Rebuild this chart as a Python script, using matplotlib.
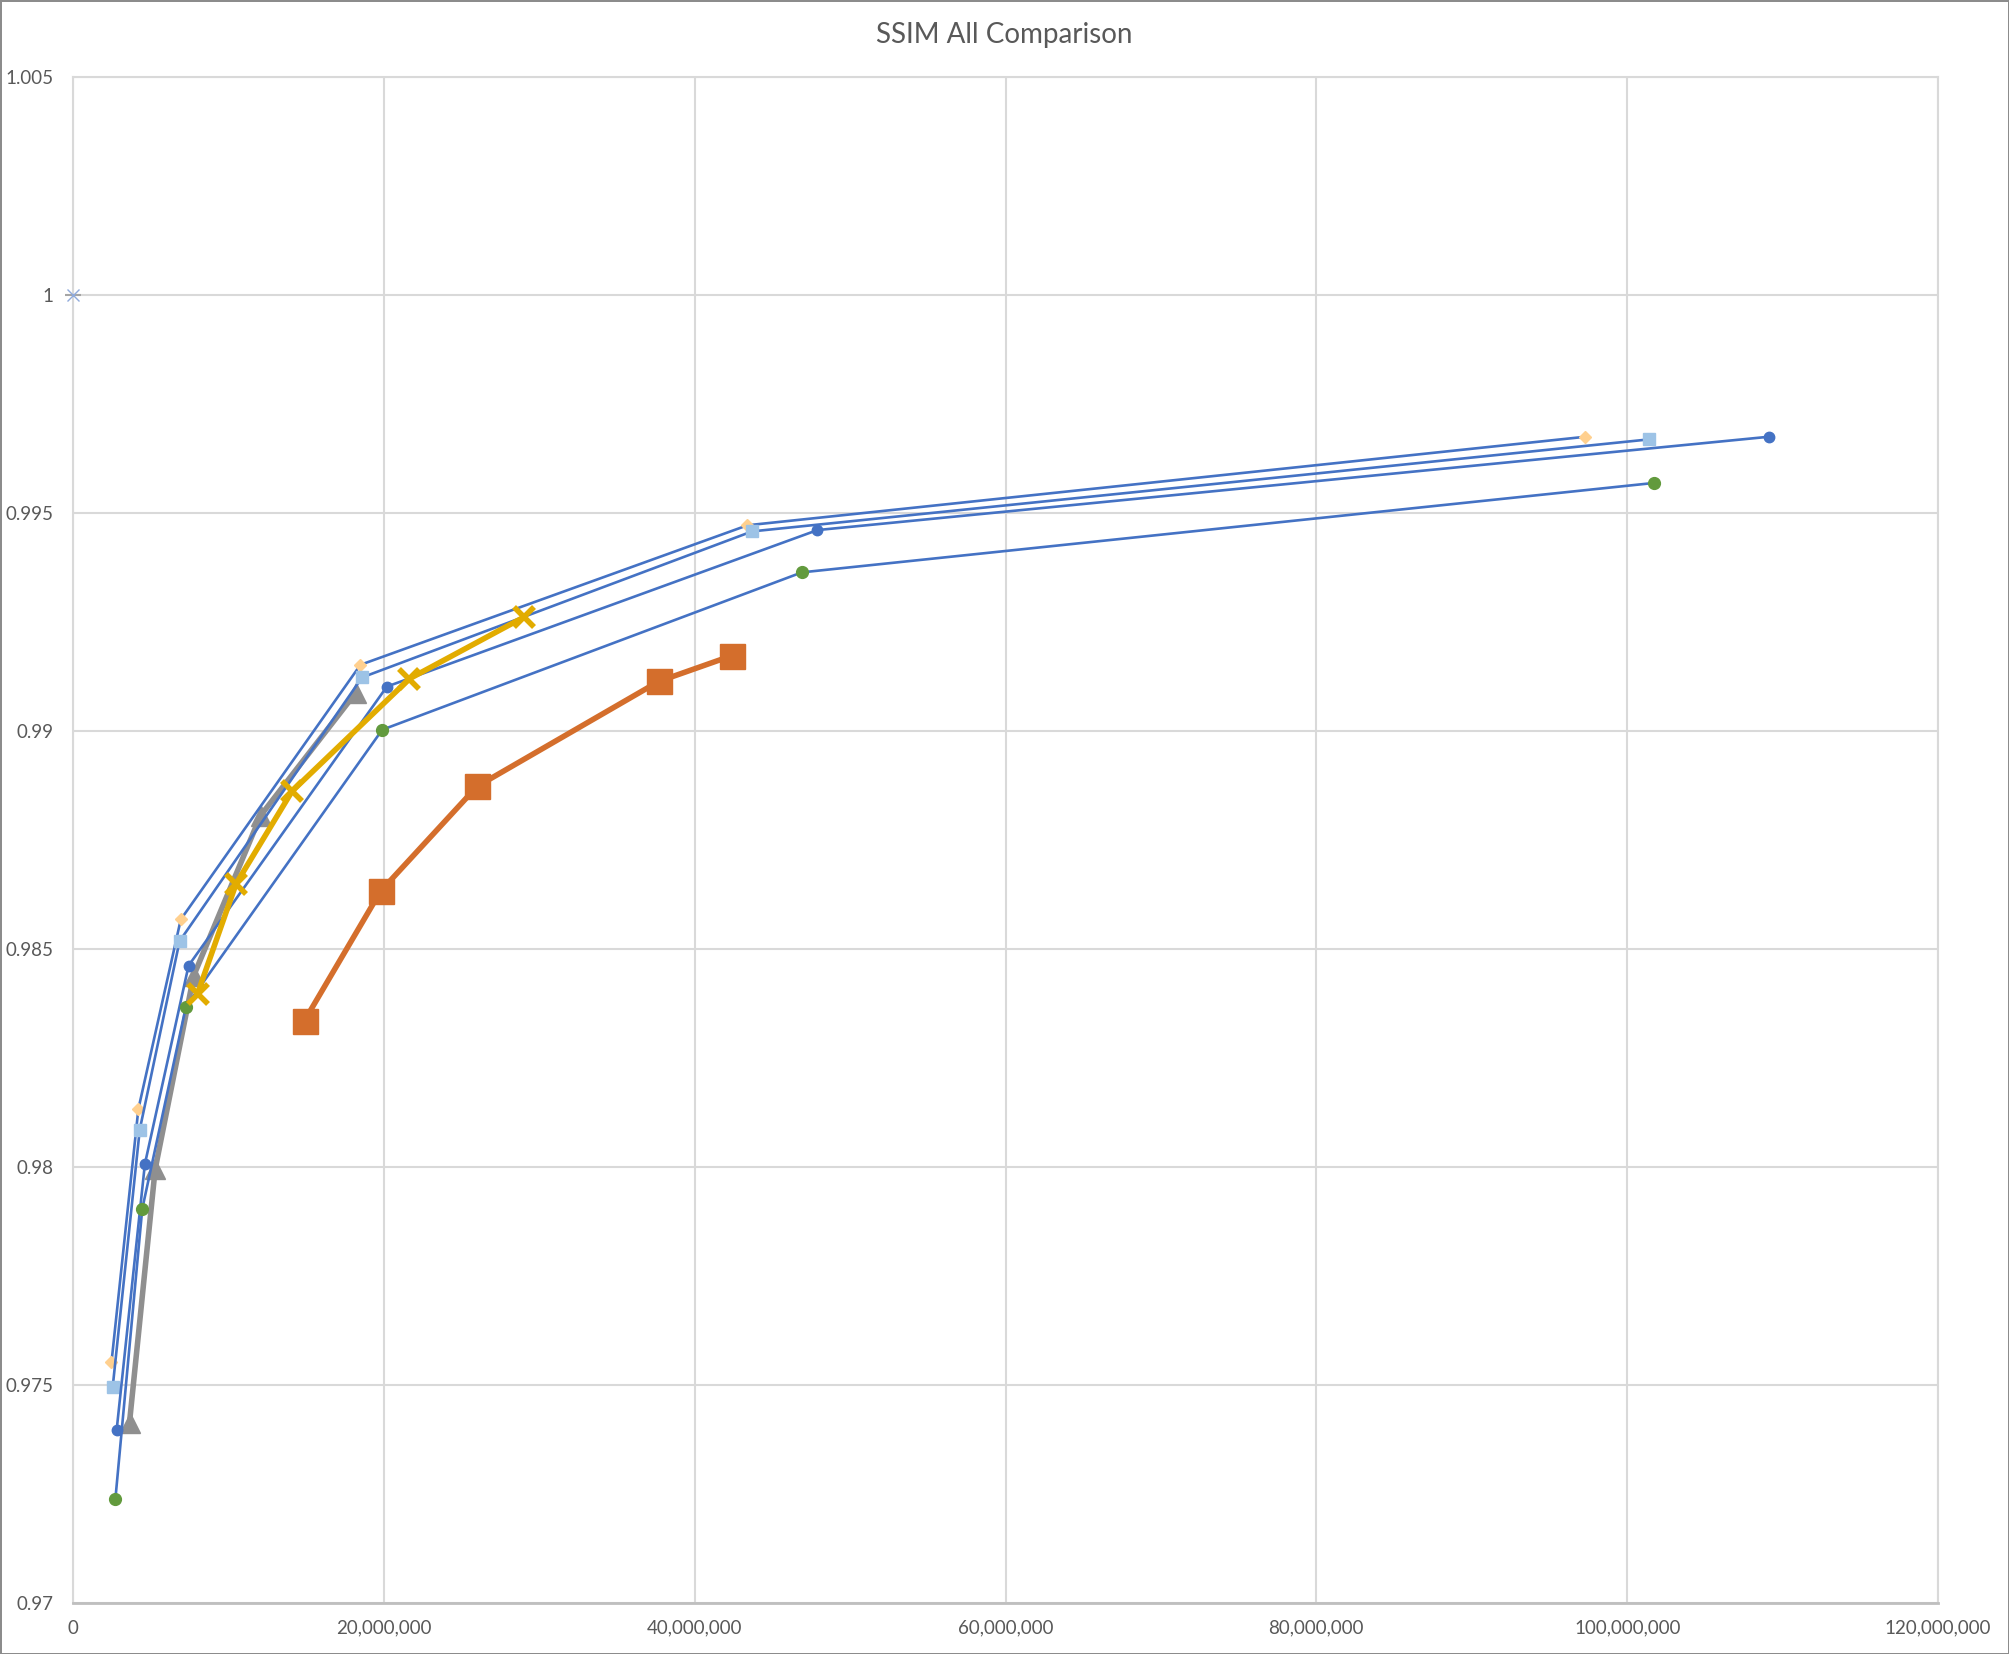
import matplotlib
matplotlib.use("Agg")
import matplotlib.pyplot as plt
from matplotlib.ticker import FuncFormatter, MultipleLocator

# values (bitrate-ish x, SSIM y)
diamond_x = [2.48e6, 4.21e6, 6.94e6, 18.5e6, 43.4e6, 97.3e6]
diamond_y = [0.97552, 0.98133, 0.98568, 0.99152, 0.99472, 0.99675]

lsquare_x = [2.56e6, 4.30e6, 6.86e6, 18.6e6, 43.7e6, 101.4e6]
lsquare_y = [0.97496, 0.98086, 0.98518, 0.99123, 0.99458, 0.99669]

bcircle_x = [2.81e6, 4.63e6, 7.44e6, 20.2e6, 47.9e6, 109.1e6]
bcircle_y = [0.97396, 0.98007, 0.98462, 0.99102, 0.99461, 0.99675]

gcircle_x = [2.73e6, 4.46e6, 7.27e6, 19.9e6, 46.9e6, 101.7e6]
gcircle_y = [0.97238, 0.97904, 0.98368, 0.99003, 0.99364, 0.99569]

triangle_x = [3.64e6, 5.29e6, 7.77e6, 12.07e6, 18.2e6]
triangle_y = [0.97414, 0.97995, 0.98439, 0.98806, 0.99088]

cross_x = [8.02e6, 10.5e6, 14.1e6, 21.65e6, 29.0e6]
cross_y = [0.98398, 0.98650, 0.98862, 0.99120, 0.99261]

osquare_x = [14.9e6, 19.8e6, 26.0e6, 37.7e6, 42.4e6]
osquare_y = [0.98336, 0.98633, 0.98873, 0.99114, 0.99173]

ref_x = [0]
ref_y = [1.0]

x_ticks = [0, 20e6, 40e6, 60e6, 80e6, 100e6, 120e6]

BLUE = "#4472C4"
TEXT = "#595959"
GRID = "#D9D9D9"

plt.rcParams['font.family'] = ['Lato', 'DejaVu Sans']

fig = plt.figure(figsize=(20.09, 16.54), dpi=100)
fig.patch.set_edgecolor("#8C8C8C")
fig.patch.set_linewidth(2)
ax = fig.add_axes([0.0363, 0.0308, 0.9284, 0.9226])

# thick gray series first, the blue ones cross over it
ax.plot(triangle_x, triangle_y, color="#8F8F8F", lw=4, marker="^", ms=15,
        mfc="#8F8F8F", mec="#8F8F8F", zorder=3)

ax.plot(diamond_x, diamond_y, color=BLUE, lw=1.9, marker="D", ms=6,
        mfc="#FFD08F", mec="#FFD08F", zorder=4)
ax.plot(lsquare_x, lsquare_y, color=BLUE, lw=1.9, marker="s", ms=9,
        mfc="#9DC3E6", mec="#9DC3E6", zorder=4)
ax.plot(bcircle_x, bcircle_y, color=BLUE, lw=1.9, marker="o", ms=7.5,
        mfc=BLUE, mec=BLUE, zorder=4)
ax.plot(gcircle_x, gcircle_y, color=BLUE, lw=1.9, marker="o", ms=8.5,
        mfc="#629A3D", mec="#629A3D", zorder=4)

ax.plot(cross_x, cross_y, color="#E2AC00", lw=4, marker="x", ms=15, mew=4,
        mec="#E2AC00", zorder=5)
ax.plot(osquare_x, osquare_y, color="#D46E2C", lw=4, marker="s", ms=18,
        mfc="#D46E2C", mec="#D46E2C", zorder=5)

# lone reference point at (0, 1)
ax.plot(ref_x, ref_y, ls="none", marker="_", ms=12, mew=1.5, color="#A5A5A5",
        clip_on=False, zorder=6)
ax.plot(ref_x, ref_y, ls="none", marker="x", ms=9, mew=1, color="#8FAADC",
        clip_on=False, zorder=6)

ax.set_xlim(0, 120e6)
ax.set_ylim(0.97, 1.005)
ax.set_xticks(x_ticks)
ax.yaxis.set_major_locator(MultipleLocator(0.005))
ax.xaxis.set_major_formatter(FuncFormatter(lambda v, p: f"{int(round(v)):,}"))
ax.yaxis.set_major_formatter(FuncFormatter(lambda v, p: f"{round(v, 3):g}"))

ax.grid(True, color=GRID, lw=1.5, zorder=0)
ax.set_axisbelow(True)
for side in ["top", "right", "left"]:
    ax.spines[side].set_color(GRID)
    ax.spines[side].set_linewidth(1.5)
ax.spines["bottom"].set_color("#BFBFBF")
ax.spines["bottom"].set_linewidth(2)
ax.tick_params(length=0, labelsize=13.5, labelcolor=TEXT)
ax.tick_params(axis="y", pad=14)
ax.tick_params(axis="x", pad=12)

fig.text(0.5, 1 - 35 / 1654, "SSIM All Comparison", ha="center", va="center",
         fontsize=20, color=TEXT)

fig.savefig("out.png", dpi=100, edgecolor=fig.get_edgecolor())
